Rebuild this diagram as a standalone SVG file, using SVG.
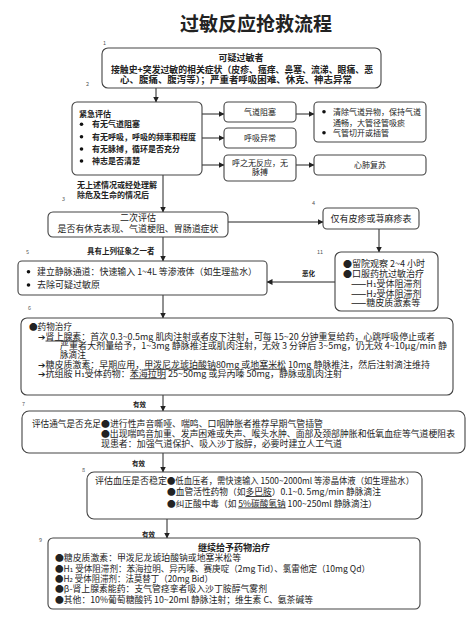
<svg xmlns="http://www.w3.org/2000/svg" width="474" height="621" viewBox="0 0 474 621">
<defs>
<marker id="ah" markerUnits="userSpaceOnUse" markerWidth="6" markerHeight="6" refX="5.5" refY="3" orient="auto">
<path d="M0,0 L6,3 L0,6 z" fill="#222"/>
</marker>
<style>
.box{fill:#fff;stroke:#444;stroke-width:1.1}
text{font-family:"Noto Sans CJK SC","DejaVu Sans",sans-serif;fill:#222}
.b{font-weight:bold}
.s9{font-size:9px}
.s86{font-size:8.6px}
.s8{font-size:8px}
.num{font-size:5.5px;fill:#555}
.lbl{font-size:6.5px;font-weight:bold}
.u{text-decoration:underline}
.c{text-anchor:middle}
#connectors line{stroke:#222;stroke-width:1;marker-end:url(#ah)}
.dot{fill:#111}
</style>
</defs>
<rect width="474" height="621" fill="#fff"/>

<text x="256" y="31" class="c b" style="font-size:19px">过敏反应抢救流程</text>

<g id="numbers">
<text x="103" y="45" class="num">1</text>
<text x="86" y="86" class="num">2</text>
<text x="62" y="201" class="num">3</text>
<text x="312" y="205" class="num">4</text>
<text x="26" y="254" class="num">5</text>
<text x="317" y="254" class="num">11</text>
<text x="28" y="310" class="num">6</text>
<text x="22" y="406" class="num">7</text>
<text x="82" y="472" class="num">8</text>
<text x="39" y="542" class="num">9</text>
</g>

<g id="connectors">
<line x1="156" y1="88" x2="156" y2="102"/>
<line x1="202" y1="114" x2="224" y2="114"/>
<line x1="202" y1="138" x2="224" y2="138"/>
<line x1="202" y1="165" x2="224" y2="165"/>
<line x1="296" y1="114" x2="314" y2="114"/>
<line x1="296" y1="165" x2="314" y2="165"/>
<line x1="163" y1="175" x2="163" y2="212"/>
<line x1="228" y1="222" x2="323" y2="222"/>
<line x1="379" y1="229" x2="379" y2="252"/>
<line x1="335" y1="282" x2="267" y2="282"/>
<line x1="163" y1="237" x2="163" y2="261"/>
<line x1="163" y1="295" x2="163" y2="318"/>
<line x1="163" y1="395" x2="163" y2="411"/>
<line x1="163" y1="453" x2="163" y2="472"/>
<line x1="167" y1="519" x2="167" y2="538"/>
</g>

<g id="labels">
<text x="77" y="188" class="s8 b">无上述情况或经处理解</text>
<text x="77" y="198" class="s8 b">除危及生命的情况后</text>
<text x="87" y="253.5" class="b" style="font-size:7.5px">具有上列征象之一者</text>
<text x="302" y="275.5" class="lbl">恶化</text>
<text x="133" y="406.5" class="lbl">有效</text>
<text x="132" y="465.5" class="lbl">有效</text>
<text x="142" y="536.5" class="lbl">有效</text>
</g>

<g id="node1">
<rect x="102" y="48" width="279" height="40" rx="6" class="box"/>
<text x="241" y="61" class="c s9 b">可疑过敏者</text>
<text x="242" y="72.5" class="c s9 b" textLength="262" lengthAdjust="spacingAndGlyphs">接触史+突发过敏的相关症状（皮疹、瘙痒、鼻塞、流涕、眼痛、恶</text>
<text x="236" y="83" class="c s9 b" textLength="232" lengthAdjust="spacingAndGlyphs">心、腹痛、腹泻等）；严重者呼吸困难、休克、神志异常</text>
</g>

<g id="node2">
<rect x="72" y="102" width="130" height="73" rx="5" class="box"/>
<text x="79" y="117" class="s8 b">紧急评估</text>
<circle cx="81.5" cy="124.3" r="1.8" class="dot"/>
<text x="92" y="127.3" class="s8 b">有无气道阻塞</text>
<circle cx="81.5" cy="136.7" r="1.8" class="dot"/>
<text x="92" y="139.7" class="s8 b">有无呼吸，呼吸的频率和程度</text>
<circle cx="81.5" cy="149" r="1.8" class="dot"/>
<text x="92" y="152" class="s8 b">有无脉搏，循环是否充分</text>
<circle cx="81.5" cy="161" r="1.8" class="dot"/>
<text x="92" y="164" class="s8 b">神志是否清楚</text>
</g>

<g id="airway">
<rect x="224" y="102" width="72" height="20" rx="4" class="box"/>
<text x="260" y="115" class="c s8">气道阻塞</text>
</g>
<g id="breathing">
<rect x="224" y="128" width="72" height="20" rx="4" class="box"/>
<text x="260" y="141" class="c s8">呼吸异常</text>
</g>
<g id="noresponse">
<rect x="224" y="155" width="72" height="26" rx="4" class="box"/>
<text x="260" y="165.5" class="c s8">呼之无反应，无</text>
<text x="260" y="175" class="c s8">脉搏</text>
</g>
<g id="airwayAction">
<rect x="314" y="102" width="112" height="40" rx="4" class="box"/>
<circle cx="324" cy="111.7" r="1.8" class="dot"/>
<text x="333" y="114.5" class="s8">清除气道异物，保持气道</text>
<text x="333" y="125.5" class="s8">通畅，大管径管吸痰</text>
<circle cx="324" cy="132.7" r="1.8" class="dot"/>
<text x="333" y="135.5" class="s8">气管切开或插管</text>
</g>
<g id="cpr">
<rect x="314" y="155" width="112" height="20" rx="4" class="box"/>
<text x="370" y="168" class="c s8">心肺复苏</text>
</g>

<g id="node3">
<rect x="48" y="212" width="180" height="25" rx="5" class="box"/>
<text x="138" y="221" class="c s9">二次评估</text>
<text x="138" y="231.5" class="c s9" textLength="161" lengthAdjust="spacingAndGlyphs">是否有休克表现、气道梗阻、胃肠道症状</text>
</g>

<g id="node4">
<rect x="323" y="208" width="96" height="21" rx="4" class="box"/>
<text x="371" y="222" class="c s9">仅有皮疹或荨麻疹表</text>
</g>

<g id="node11">
<rect x="335" y="252" width="103" height="59" rx="6" class="box"/>
<text x="343" y="267" class="s9">●留院观察 2~4 小时</text>
<text x="343" y="276.5" class="s9">●口服药抗过敏治疗</text>
<text x="351" y="286.5" class="s9"><tspan class="b">——</tspan>H₁受体阻滞剂</text>
<text x="351" y="296.5" class="s9"><tspan class="b">——</tspan>H₂受体阻滞剂</text>
<text x="351" y="306" class="s9"><tspan class="b">——</tspan>糖皮质激素等</text>
</g>

<g id="node5">
<rect x="18" y="261" width="249" height="34" rx="4" class="box"/>
<circle cx="28.5" cy="271.7" r="1.8" class="dot"/>
<text x="37" y="274.8" class="s9" textLength="220" lengthAdjust="spacingAndGlyphs">建立静脉通道：快速输入 1~4L 等渗液体（如生理盐水）</text>
<circle cx="28.5" cy="285" r="1.8" class="dot"/>
<text x="37" y="288" class="s9">去除可疑过敏原</text>
</g>

<g id="node6">
<rect x="21" y="318" width="432" height="77" rx="6" class="box"/>
<text x="29" y="330" class="s86">●药物治疗</text>
<text x="38" y="339.6" class="s86" textLength="397" lengthAdjust="spacingAndGlyphs">➔<tspan class="u">肾上腺素</tspan>：首次 0.3~0.5mg 肌肉注射或者皮下注射，可每 15~20 分钟重复给药，心跳呼吸停止或者</text>
<text x="60" y="349" class="s86" textLength="387" lengthAdjust="spacingAndGlyphs">严重者大剂量给予，1~3mg 静脉推注或肌肉注射，无效 3 分钟后 3~5mg，仍无效 4~10μg/min 静</text>
<text x="60" y="358.3" class="s86">脉滴注</text>
<text x="38" y="367.8" class="s86" textLength="392" lengthAdjust="spacingAndGlyphs">➔糖皮质激素：早期应用，<tspan class="u">甲泼尼龙琥珀酸钠</tspan>80mg 或<tspan class="u">地塞米松</tspan> 10mg 静脉推注，然后注射滴注维持</text>
<text x="38" y="377.3" class="s86" textLength="304" lengthAdjust="spacingAndGlyphs">➔抗组胺 H₁受体药物：<tspan class="u">苯海拉明</tspan> 25~50mg 或异丙嗪 50mg，静脉或肌肉注射</text>
</g>

<g id="node7">
<rect x="22" y="411" width="443" height="42" rx="7" class="box"/>
<text x="32" y="426.5" class="s86" textLength="69" lengthAdjust="spacingAndGlyphs">评估通气是否充足</text>
<text x="101" y="426.5" class="s86" textLength="222" lengthAdjust="spacingAndGlyphs">●进行性声音嘶哑、喘鸣、口咽肿胀者推荐早期气管插管</text>
<text x="101" y="436.5" class="s86" textLength="354" lengthAdjust="spacingAndGlyphs">●出现喘鸣音加重、发声困难或失声、喉头水肿、面部及颈部肿胀和低氧血症等气道梗阻表</text>
<text x="101" y="446.5" class="s86" textLength="241" lengthAdjust="spacingAndGlyphs">现患者：加强气道保护、吸入沙丁胺醇，必要时建立人工气道</text>
</g>

<g id="node8">
<rect x="87" y="472" width="335" height="47" rx="7" class="box"/>
<text x="95" y="484" class="s86" textLength="72" lengthAdjust="spacingAndGlyphs">评估血压是否稳定</text>
<text x="167" y="484" class="s86" textLength="247" lengthAdjust="spacingAndGlyphs">●低血压者，需快速输入 1500~2000ml 等渗晶体液（如生理盐水）</text>
<text x="167" y="495" class="s86" textLength="214" lengthAdjust="spacingAndGlyphs">●血管活性药物（如<tspan class="u">多巴胺</tspan>）0.1~0. 5mg/min 静脉滴注</text>
<text x="167" y="506.5" class="s86" textLength="210" lengthAdjust="spacingAndGlyphs">●纠正酸中毒（如 <tspan class="u">5%碳酸氢钠</tspan> 100~250ml 静脉滴注）</text>
</g>

<g id="node9">
<rect x="48" y="538" width="372" height="71" rx="5" class="box"/>
<text x="234" y="551.2" class="c s9 b">继续给予药物治疗</text>
<text x="55" y="561.4" class="s86" textLength="186" lengthAdjust="spacingAndGlyphs">●糖皮质激素：甲泼尼龙琥珀酸钠或地塞米松等</text>
<text x="55" y="571.8" class="s86" textLength="315" lengthAdjust="spacingAndGlyphs">●H₁ 受体阻滞剂：苯海拉明、异丙嗪、赛庚啶（2mg Tid）、氯雷他定（10mg Qd）</text>
<text x="55" y="582.2" class="s86" textLength="158" lengthAdjust="spacingAndGlyphs">●H₂ 受体阻滞剂：法莫替丁（20mg Bid）</text>
<text x="55" y="592.4" class="s86" textLength="212" lengthAdjust="spacingAndGlyphs">●β-肾上腺素能药：支气管痉挛者吸入沙丁胺醇气雾剂</text>
<text x="55" y="602.6" class="s86" textLength="258" lengthAdjust="spacingAndGlyphs">●其他：10%葡萄糖酸钙 10~20ml 静脉注射；维生素 C、氨茶碱等</text>
</g>
</svg>
